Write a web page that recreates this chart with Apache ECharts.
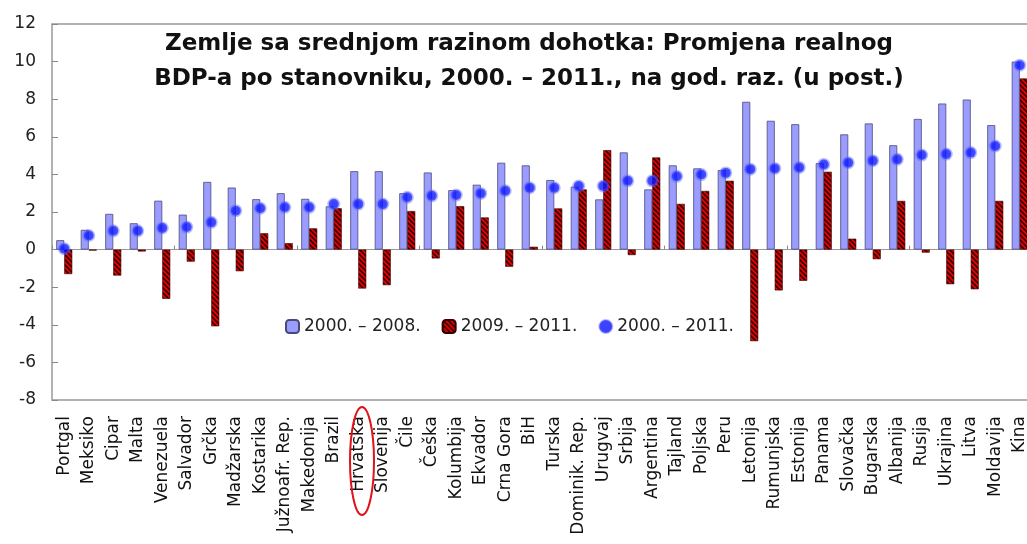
<!DOCTYPE html>
<html>
<head>
<meta charset="utf-8">
<script src="https://cdn.jsdelivr.net/npm/echarts@6/dist/echarts.min.js"></script>
<style>
  html, body { margin: 0; padding: 0; background: #fff; }
  #main { width: 1027px; height: 544px; }
</style>
</head>
<body>
<div id="main"></div>
<script>
var categories = ['Portgal', 'Meksiko', 'Cipar', 'Malta', 'Venezuela', 'Salvador', 'Grčka', 'Madžarska',
  'Kostarika', 'Južnoafr. Rep.', 'Makedonija', 'Brazil', 'Hrvatska', 'Slovenija', 'Čile', 'Češka',
  'Kolumbija', 'Ekvador', 'Crna Gora', 'BiH', 'Turska', 'Dominik. Rep.', 'Urugvaj', 'Srbija',
  'Argentina', 'Tajland', 'Poljska', 'Peru', 'Letonija', 'Rumunjska', 'Estonija', 'Panama',
  'Slovačka', 'Bugarska', 'Albanija', 'Rusija', 'Ukrajina', 'Litva', 'Moldavija', 'Kina'];

var p2000_2008 = [0.5, 1.05, 1.9, 1.4, 2.6, 1.86, 3.6, 3.3, 2.68, 3.0, 2.7, 2.3, 4.17, 4.17, 3.0, 4.1,
  3.16, 3.45, 4.62, 4.48, 3.7, 3.35, 2.67, 5.17, 3.2, 4.48, 4.32, 4.23, 7.86, 6.85, 6.67, 4.6,
  6.13, 6.71, 5.55, 6.95, 7.77, 7.98, 6.62, 10.0];

var p2009_2011 = [-1.3, -0.05, -1.38, -0.1, -2.62, -0.64, -4.08, -1.15, 0.87, 0.34, 1.13, 2.2, -2.07, -1.89, 2.05, -0.47,
  2.31, 1.71, -0.91, 0.15, 2.19, 3.2, 5.29, -0.29, 4.9, 2.43, 3.12, 3.66, -4.87, -2.17, -1.66, 4.14,
  0.58, -0.51, 2.59, -0.16, -1.84, -2.11, 2.59, 9.1];

var p2000_2011 = [0.05, 0.75, 1.0, 1.0, 1.15, 1.2, 1.45, 2.07, 2.2, 2.25, 2.25, 2.42, 2.42, 2.42, 2.78, 2.86,
  2.9, 2.99, 3.13, 3.29, 3.29, 3.38, 3.38, 3.66, 3.66, 3.9, 3.99, 4.08, 4.28, 4.32, 4.37, 4.53,
  4.62, 4.73, 4.8, 5.03, 5.08, 5.16, 5.51, 9.81];

var yTicks = { min: -8, max: 12, interval: 2 };

var FONT = '"DejaVu Sans", "Liberation Sans", Arial, sans-serif';

// red fill with black diagonal hatching
function hatch() {
  var c = document.createElement('canvas');
  c.width = 5; c.height = 5;
  var ctx = c.getContext('2d');
  ctx.fillStyle = '#e00000';
  ctx.fillRect(0, 0, 5, 5);
  ctx.strokeStyle = '#1a0000';
  ctx.lineWidth = 1.4;
  ctx.beginPath();
  ctx.moveTo(-1, -1); ctx.lineTo(6, 6);
  ctx.moveTo(-1, 4); ctx.lineTo(1, 6);
  ctx.moveTo(4, -1); ctx.lineTo(6, 1);
  ctx.stroke();
  return c;
}

var chart = echarts.init(document.getElementById('main'), null, { renderer: 'canvas' });

var option = {
  backgroundColor: '#ffffff',
  animation: false,
  textStyle: { fontFamily: FONT },
  title: {
    text: 'Zemlje sa srednjom razinom dohotka: Promjena realnog\nBDP-a po stanovniku, 2000. – 2011., na god. raz. (u post.)',
    left: 524,
    top: 22,
    textAlign: 'center',
    textStyle: {
      fontFamily: FONT,
      fontSize: 23,
      fontWeight: 'bold',
      color: '#111',
      lineHeight: 35
    }
  },
  legend: {
    left: 280,
    top: 313,
    itemWidth: 13,
    itemHeight: 13,
    itemGap: 21,
    textStyle: { fontFamily: FONT, fontSize: 17, color: '#222' },
    data: ['2000. – 2008.', '2009. – 2011.', '2000. – 2011.']
  },
  grid: {
    left: 52,
    top: 24,
    width: 980,
    bottom: 144,
    outerBoundsMode: 'none',
    containLabel: false,
    show: true,
    borderColor: '#999',
    borderWidth: 1.5
  },
  xAxis: [{
    type: 'category',
    data: categories,
    position: 'bottom',
    axisLine: { show: false, onZero: false },
    axisTick: { show: false },
    axisLabel: {
      interval: 0,
      rotate: 90,
      margin: 16,
      fontFamily: FONT,
      fontSize: 17,
      color: '#111'
    }
  }, {
    type: 'category',
    data: categories,
    position: 'bottom',
    axisLine: { show: true, onZero: true, lineStyle: { color: '#999', width: 1 } },
    axisTick: { show: true, inside: true, length: 4, lineStyle: { color: '#888' } },
    axisLabel: { show: false }
  }],
  yAxis: {
    type: 'value',
    min: yTicks.min,
    max: yTicks.max,
    interval: yTicks.interval,
    axisLine: { show: false },
    axisTick: { show: true, inside: true, length: 6, lineStyle: { color: '#888' } },
    splitLine: { show: false },
    axisLabel: { fontFamily: FONT, fontSize: 17, color: '#222', margin: 16, padding: [3, 0, 0, 0] }
  },
  series: [{
    name: '2000. – 2008.',
    type: 'bar',
    data: p2000_2008,
    barWidth: 8,
    barGap: '0%',
    itemStyle: { color: '#9a9cff', borderColor: '#4a4a7a', borderWidth: 0.8 }
  }, {
    name: '2009. – 2011.',
    type: 'bar',
    data: p2009_2011,
    barWidth: 8,
    itemStyle: { color: { image: hatch(), repeat: 'repeat' }, borderColor: '#300', borderWidth: 0.6 }
  }, {
    name: '2000. – 2011.',
    type: 'scatter',
    data: p2000_2011,
    symbol: 'circle',
    symbolSize: 10,
    z: 5,
    itemStyle: {
      color: '#0a14ff',
      borderColor: 'rgba(90,100,255,0.55)',
      borderWidth: 3
    }
  }],
  graphic: [{
    type: 'ellipse',
    shape: { cx: 362, cy: 461, rx: 12, ry: 54 },
    style: { fill: null, stroke: '#e0121a', lineWidth: 2 },
    z: 10
  }]
};

chart.setOption(option);
</script>
</body>
</html>
